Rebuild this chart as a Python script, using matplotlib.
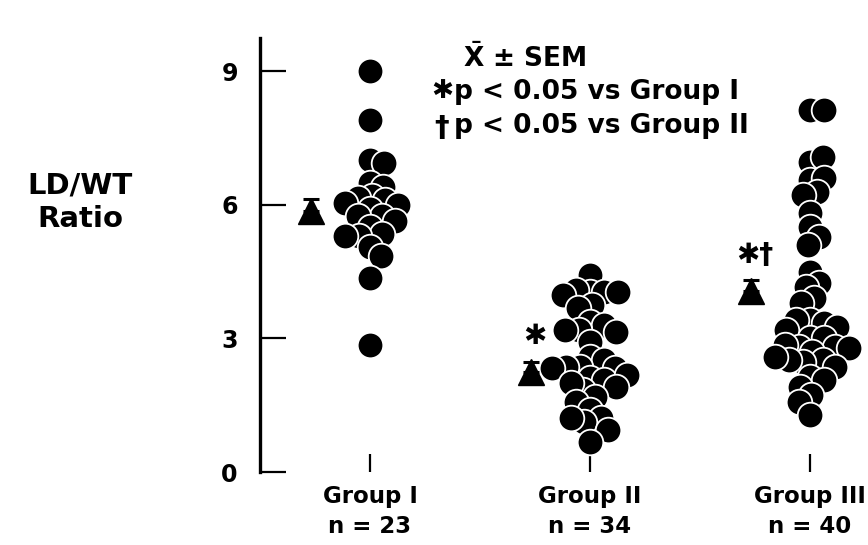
import numpy as np
import matplotlib
matplotlib.use("Agg")
import matplotlib.pyplot as plt

# values
group_labels = ["Group I", "Group II", "Group III"]
group_n = [23, 34, 40]
group1 = [9.0, 7.9, 7.0, 6.95, 6.5, 6.4, 6.2, 6.15, 6.1, 6.05, 6.0, 5.9,
          5.75, 5.75, 5.65, 5.5, 5.35, 5.3, 5.3, 5.05, 4.85, 4.35, 2.85]
group2 = [4.43, 4.05, 4.05, 4.09, 4.05, 3.98, 3.75, 3.68, 3.37, 3.30, 3.19,
          3.19, 3.15, 2.92, 2.58, 2.52, 2.36, 2.36, 2.34, 2.34, 2.11, 2.07,
          2.18, 1.84, 2.0, 1.91, 1.69, 1.57, 1.4, 1.21, 1.12, 1.21, 0.94, 0.67]
group3 = [8.13, 8.13, 6.97, 7.08, 6.56, 6.61, 6.3, 6.22, 5.82, 5.51, 5.28,
          5.1, 4.49, 4.25, 4.16, 3.91, 3.80, 3.42, 3.35, 3.42, 3.2, 3.26,
          3.01, 3.01, 2.81, 2.85, 2.81, 2.79, 2.7, 2.52, 2.47, 2.52, 2.58,
          2.36, 2.13, 2.07, 1.91, 1.73, 1.57, 1.28]
group_means = [5.87, 2.25, 4.07]
group_sems = [0.26, 0.22, 0.24]
group_marks = ["", "✱", "✱†"]

plt.rcParams["font.family"] = "DejaVu Sans"
plt.rcParams["font.weight"] = "bold"
plt.rcParams["mathtext.fontset"] = "dejavusans"

W, H = 868, 545
fig = plt.figure(figsize=(W / 100, H / 100), dpi=100)
ax = fig.add_axes([260 / W, 73 / H, 1 - 260 / W, (472 - 38) / H])
ax.set_xlim(0.5, 3.264)
ax.set_ylim(0, 9.75)


def swarm(values, center, min_dist=13.5):
    """Simple beeswarm: push each dot sideways until it stops overlapping too much."""
    pix = ax.transData.transform(np.column_stack([np.full(len(values), center), values]))
    cx = pix[0, 0]
    placed = []
    for _, py in pix:
        best = None
        for step in range(0, 300):
            for sign in (1, -1):
                px = cx + sign * step
                if all((px - qx) ** 2 + (py - qy) ** 2 >= min_dist ** 2 for qx, qy in placed):
                    best = px
                    break
            if best is not None:
                break
        placed.append((best, py))
    return ax.transData.inverted().transform(np.array(placed))[:, 0]


groups = [group1, group2, group3]
for i, vals in enumerate(groups):
    xs = swarm(vals, i + 1)
    ax.scatter(xs, vals, s=340, c="black", edgecolors="white", linewidths=1.3, zorder=3)

    mx = i + 1 - 0.27
    ax.errorbar(mx, group_means[i], yerr=[[0], [group_sems[i]]], fmt="^", color="black",
                markersize=19, capsize=6, capthick=2.2, elinewidth=2, zorder=4)
    if group_marks[i]:
        ax.annotate(group_marks[i], xy=(mx, group_means[i]), xytext=(3, 26),
                    textcoords="offset points", ha="center", va="center",
                    fontsize=20, fontweight="bold")

ax.spines["top"].set_visible(False)
ax.spines["right"].set_visible(False)
ax.spines["bottom"].set_visible(False)
ax.spines["left"].set_linewidth(2.4)

ax.set_yticks([0, 3, 6, 9])
ax.tick_params(axis="y", direction="in", length=19, width=1.6, pad=16, labelsize=17)
ax.set_xticks([1, 2, 3])
ax.set_xticklabels([f"{g}\nn = {n}" for g, n in zip(group_labels, group_n)],
                   linespacing=1.4)
ax.tick_params(axis="x", direction="in", length=13, width=1.6, pad=9, labelsize=16.5)

fig.text(80 / W, 1 - 202 / H, "LD/WT\nRatio", ha="center", va="center",
         fontsize=21, fontweight="bold", linespacing=1.25)

# key text
fig.text(463 / W, 1 - 58 / H, r"$\mathbf{\bar{X}}$ ± SEM", ha="left", va="center",
         fontsize=19, fontweight="bold")
fig.text(442 / W, 1 - 91 / H, "✱", ha="center", va="center", fontsize=19, fontweight="bold")
fig.text(454 / W, 1 - 92 / H, "p < 0.05 vs Group I", ha="left", va="center",
         fontsize=19, fontweight="bold")
fig.text(442 / W, 1 - 128 / H, "†", ha="center", va="center", fontsize=21, fontweight="bold")
fig.text(454 / W, 1 - 126 / H, "p < 0.05 vs Group II", ha="left", va="center",
         fontsize=19, fontweight="bold")

fig.savefig("out.png", dpi=100)
